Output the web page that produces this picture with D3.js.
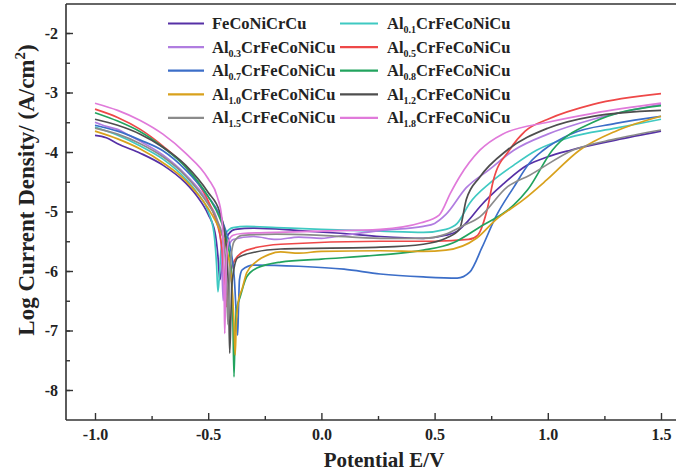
<!DOCTYPE html>
<html>
<head>
<meta charset="utf-8">
<script src="https://cdn.jsdelivr.net/npm/d3@7"></script>
<style>
  html, body { margin: 0; padding: 0; background: #fff; }
  svg { display: block; }
  text { font-family: "Liberation Serif", "Times New Roman", serif; font-weight: bold; fill: #222; }
</style>
</head>
<body>
<svg id="chart" width="676" height="476"></svg>
<script>
// Potentiodynamic polarization curves: [potential E (V), log current density]
const feCoNiCrCu = [[-1.0,-3.72],[-0.95,-3.76],[-0.9,-3.86],[-0.8,-4.02],[-0.7,-4.22],[-0.6,-4.52],[-0.55,-4.74],[-0.5,-5.05],[-0.47,-5.35],[-0.457,-5.75],[-0.449,-6.15],[-0.442,-6.0],[-0.432,-5.6],[-0.41,-5.38],[-0.38,-5.3],[-0.3,-5.28],[-0.1,-5.32],[0.1,-5.37],[0.26,-5.42],[0.45,-5.45],[0.55,-5.4],[0.6,-5.33],[0.65,-5.15],[0.7,-4.92],[0.8,-4.55],[0.91,-4.22],[1.0,-4.08],[1.1,-3.97],[1.3,-3.8],[1.5,-3.65]];
const al01 = [[-1.0,-3.58],[-0.9,-3.72],[-0.8,-3.9],[-0.7,-4.12],[-0.6,-4.45],[-0.55,-4.68],[-0.5,-5.0],[-0.475,-5.35],[-0.463,-5.9],[-0.457,-6.35],[-0.451,-6.1],[-0.442,-5.6],[-0.42,-5.35],[-0.39,-5.27],[-0.33,-5.25],[-0.2,-5.27],[0.0,-5.3],[0.26,-5.33],[0.45,-5.35],[0.55,-5.3],[0.6,-5.2],[0.655,-4.86],[0.745,-4.52],[0.85,-4.22],[0.95,-3.97],[1.1,-3.75],[1.3,-3.6],[1.5,-3.45]];
const al03 = [[-1.0,-3.5],[-0.95,-3.57],[-0.9,-3.62],[-0.85,-3.72],[-0.8,-3.82],[-0.7,-4.05],[-0.6,-4.38],[-0.5,-4.85],[-0.46,-5.15],[-0.442,-5.6],[-0.434,-6.5],[-0.426,-6.0],[-0.415,-5.65],[-0.39,-5.47],[-0.3,-5.42],[-0.2,-5.47],[-0.1,-5.43],[0.0,-5.45],[0.1,-5.4],[0.26,-5.32],[0.45,-5.25],[0.5,-5.2],[0.55,-5.05],[0.64,-4.6],[0.74,-4.3],[0.85,-3.97],[1.0,-3.7],[1.2,-3.45],[1.5,-3.2]];
const al05 = [[-1.0,-3.28],[-0.9,-3.42],[-0.8,-3.62],[-0.7,-3.9],[-0.6,-4.25],[-0.55,-4.5],[-0.5,-4.82],[-0.47,-5.1],[-0.44,-5.6],[-0.426,-6.3],[-0.419,-6.6],[-0.411,-6.3],[-0.4,-6.0],[-0.38,-5.8],[-0.33,-5.65],[-0.18,-5.55],[0.26,-5.5],[0.5,-5.5],[0.65,-5.47],[0.69,-5.4],[0.73,-5.0],[0.76,-4.47],[0.83,-3.97],[0.9,-3.65],[1.0,-3.45],[1.2,-3.2],[1.5,-3.02]];
const al07 = [[-1.0,-3.55],[-0.9,-3.65],[-0.8,-3.8],[-0.7,-3.98],[-0.6,-4.3],[-0.5,-4.75],[-0.45,-5.05],[-0.42,-5.35],[-0.4,-5.65],[-0.385,-6.1],[-0.375,-6.8],[-0.37,-7.08],[-0.366,-6.6],[-0.362,-6.15],[-0.35,-5.98],[-0.3,-5.9],[-0.1,-5.92],[0.1,-5.97],[0.26,-6.05],[0.45,-6.1],[0.6,-6.12],[0.655,-6.02],[0.71,-5.6],[0.77,-5.09],[0.85,-4.59],[0.92,-4.18],[0.98,-3.97],[1.1,-3.7],[1.3,-3.52],[1.5,-3.4]];
const al08 = [[-1.0,-3.34],[-0.9,-3.48],[-0.8,-3.66],[-0.7,-3.92],[-0.6,-4.25],[-0.5,-4.75],[-0.45,-5.1],[-0.42,-5.45],[-0.4,-5.9],[-0.391,-6.8],[-0.386,-7.78],[-0.381,-7.0],[-0.372,-6.6],[-0.36,-6.45],[-0.33,-6.1],[-0.285,-5.95],[-0.18,-5.85],[0.0,-5.8],[0.26,-5.73],[0.45,-5.65],[0.58,-5.53],[0.7,-5.26],[0.85,-4.89],[0.91,-4.64],[1.02,-3.97],[1.2,-3.5],[1.5,-3.22]];
const al10 = [[-1.0,-3.65],[-0.9,-3.78],[-0.8,-3.95],[-0.7,-4.18],[-0.6,-4.48],[-0.5,-4.95],[-0.45,-5.3],[-0.42,-5.6],[-0.396,-6.2],[-0.386,-6.9],[-0.381,-7.41],[-0.376,-6.9],[-0.366,-6.5],[-0.35,-6.3],[-0.33,-6.03],[-0.29,-5.85],[-0.23,-5.72],[-0.18,-5.68],[-0.1,-5.7],[0.0,-5.67],[0.26,-5.66],[0.45,-5.67],[0.55,-5.65],[0.685,-5.45],[0.77,-5.14],[0.89,-4.81],[0.995,-4.47],[1.14,-3.97],[1.3,-3.65],[1.5,-3.4]];
const al12 = [[-1.0,-3.45],[-0.9,-3.55],[-0.8,-3.7],[-0.7,-3.92],[-0.6,-4.22],[-0.5,-4.68],[-0.45,-5.0],[-0.43,-5.3],[-0.416,-5.8],[-0.409,-6.6],[-0.405,-7.38],[-0.4,-6.8],[-0.395,-6.2],[-0.37,-5.78],[-0.29,-5.68],[-0.18,-5.63],[0.26,-5.6],[0.45,-5.55],[0.55,-5.45],[0.61,-5.3],[0.64,-4.8],[0.7,-4.42],[0.82,-3.97],[1.0,-3.6],[1.2,-3.4],[1.5,-3.3]];
const al15 = [[-1.0,-3.6],[-0.9,-3.7],[-0.8,-3.86],[-0.7,-4.08],[-0.6,-4.4],[-0.5,-4.88],[-0.46,-5.15],[-0.43,-5.55],[-0.419,-6.2],[-0.413,-6.9],[-0.407,-6.3],[-0.4,-5.8],[-0.385,-5.5],[-0.35,-5.4],[-0.2,-5.38],[0.0,-5.4],[0.26,-5.45],[0.45,-5.45],[0.55,-5.38],[0.62,-5.25],[0.7,-5.09],[0.82,-4.59],[0.92,-4.39],[1.11,-3.97],[1.3,-3.78],[1.5,-3.63]];
const al18 = [[-1.0,-3.18],[-0.9,-3.3],[-0.8,-3.47],[-0.7,-3.7],[-0.6,-4.02],[-0.5,-4.45],[-0.46,-4.75],[-0.44,-5.1],[-0.433,-5.6],[-0.429,-6.5],[-0.427,-7.05],[-0.424,-6.5],[-0.419,-5.8],[-0.41,-5.5],[-0.39,-5.4],[-0.35,-5.37],[-0.2,-5.35],[0.0,-5.33],[0.26,-5.3],[0.44,-5.19],[0.52,-5.06],[0.57,-4.69],[0.61,-4.42],[0.7,-3.97],[0.8,-3.7],[1.0,-3.5],[1.2,-3.35],[1.5,-3.18]];

// Legend entries: "Al" content subscript ("" for the Al-free alloy)
const alContent = ["", "0.1", "0.3", "0.5", "0.7", "0.8", "1.0", "1.2", "1.5", "1.8"];
const seriesData = [feCoNiCrCu, al01, al03, al05, al07, al08, al10, al12, al15, al18];
const seriesColors = ["#5630a6", "#3fc9c2", "#b07de0", "#ee4848", "#3c6ec8", "#22a35e", "#d8a11c", "#4e4e4e", "#8b8b8b", "#e07ada"];

const xTicks = [-1.0, -0.5, 0.0, 0.5, 1.0, 1.5];
const xMinorTicks = [-0.75, -0.25, 0.25, 0.75, 1.25];
const yTicks = [-8, -7, -6, -5, -4, -3, -2];
const yMinorTicks = [-8, -7.5, -7, -6.5, -6, -5.5, -5, -4.5, -4, -3.5, -3, -2.5, -2];

const svg = d3.select("#chart");
const frameLeft = 66, frameRight = 676, frameTop = 4, frameBottom = 420;

const x = d3.scaleLinear().domain([-1.0, 1.5]).range([95, 661]);
const y = d3.scaleLinear().domain([-2, -8]).range([33, 390]);

const axisColor = "#333";

// Frame: left, bottom and top edges
svg.append("line").attr("x1", frameLeft).attr("x2", frameLeft).attr("y1", frameTop).attr("y2", frameBottom)
  .attr("stroke", axisColor).attr("stroke-width", 1.6);
svg.append("line").attr("x1", frameLeft).attr("x2", frameRight).attr("y1", frameBottom).attr("y2", frameBottom)
  .attr("stroke", axisColor).attr("stroke-width", 1.6);
svg.append("line").attr("x1", frameLeft).attr("x2", frameRight).attr("y1", frameTop).attr("y2", frameTop)
  .attr("stroke", axisColor).attr("stroke-width", 1.6);

// Bottom axis, ticks pointing inward; labels use a plain hyphen for negatives
svg.append("g").attr("transform", `translate(0,${frameBottom})`)
  .call(d3.axisBottom(x).tickValues(xTicks).tickSize(-7).tickPadding(9).tickFormat(d => d.toFixed(1)));
svg.append("g").attr("transform", `translate(0,${frameBottom})`)
  .call(d3.axisBottom(x).tickValues(xMinorTicks).tickSize(-4).tickFormat(""));

// Left axis
svg.append("g").attr("transform", `translate(${frameLeft},0)`)
  .call(d3.axisLeft(y).tickValues(yTicks).tickSize(-7).tickPadding(8).tickFormat(d => String(d)));
svg.append("g").attr("transform", `translate(${frameLeft},0)`)
  .call(d3.axisLeft(y).tickValues(yMinorTicks).tickSize(-4).tickFormat(""));

svg.selectAll(".domain").remove();
svg.selectAll(".tick line").attr("stroke", axisColor).attr("stroke-width", 1.4);
svg.selectAll(".tick text")
  .attr("font-family", "'Liberation Serif', 'Times New Roman', serif")
  .attr("font-weight", "bold").attr("font-size", 16).attr("fill", "#222");

// Axis titles
svg.append("text").attr("x", 384).attr("y", 467).attr("text-anchor", "middle")
  .attr("font-size", 21).text("Potential E/V");

const yTitle = svg.append("text").attr("transform", "translate(34,190) rotate(-90)")
  .attr("text-anchor", "middle").attr("font-size", 23);
yTitle.append("tspan").text("Log Current Density/ (A/cm");
yTitle.append("tspan").attr("font-size", 15).attr("dy", -9).text("2");
yTitle.append("tspan").attr("dy", 9).text(")");

// Curves
const line = d3.line().x(d => x(d[0])).y(d => y(d[1])).curve(d3.curveMonotoneX);
svg.append("g").selectAll("path").data(seriesData).join("path")
  .attr("d", line).attr("fill", "none")
  .attr("stroke", (d, i) => seriesColors[i]).attr("stroke-width", 1.7)
  .attr("stroke-linejoin", "round");

// Legend: two columns, five rows
const legend = svg.append("g");
const legendLineX = [[168, 204], [340, 378]];
const legendTextX = [212, 387];
alContent.forEach((c, i) => {
  const col = i % 2, row = Math.floor(i / 2);
  const cy = 23.5 + row * 23.6;
  legend.append("line").attr("x1", legendLineX[col][0]).attr("x2", legendLineX[col][1])
    .attr("y1", cy).attr("y2", cy)
    .attr("stroke", seriesColors[i]).attr("stroke-width", 2.2);
  const t = legend.append("text").attr("x", legendTextX[col]).attr("y", cy + 5.5).attr("font-size", 16.5);
  if (c === "") {
    t.text("FeCoNiCrCu");
  } else {
    t.append("tspan").text("Al");
    t.append("tspan").attr("font-size", 10).attr("dy", 4).text(c);
    t.append("tspan").attr("dy", -4).text("CrFeCoNiCu");
  }
});
</script>
</body>
</html>
